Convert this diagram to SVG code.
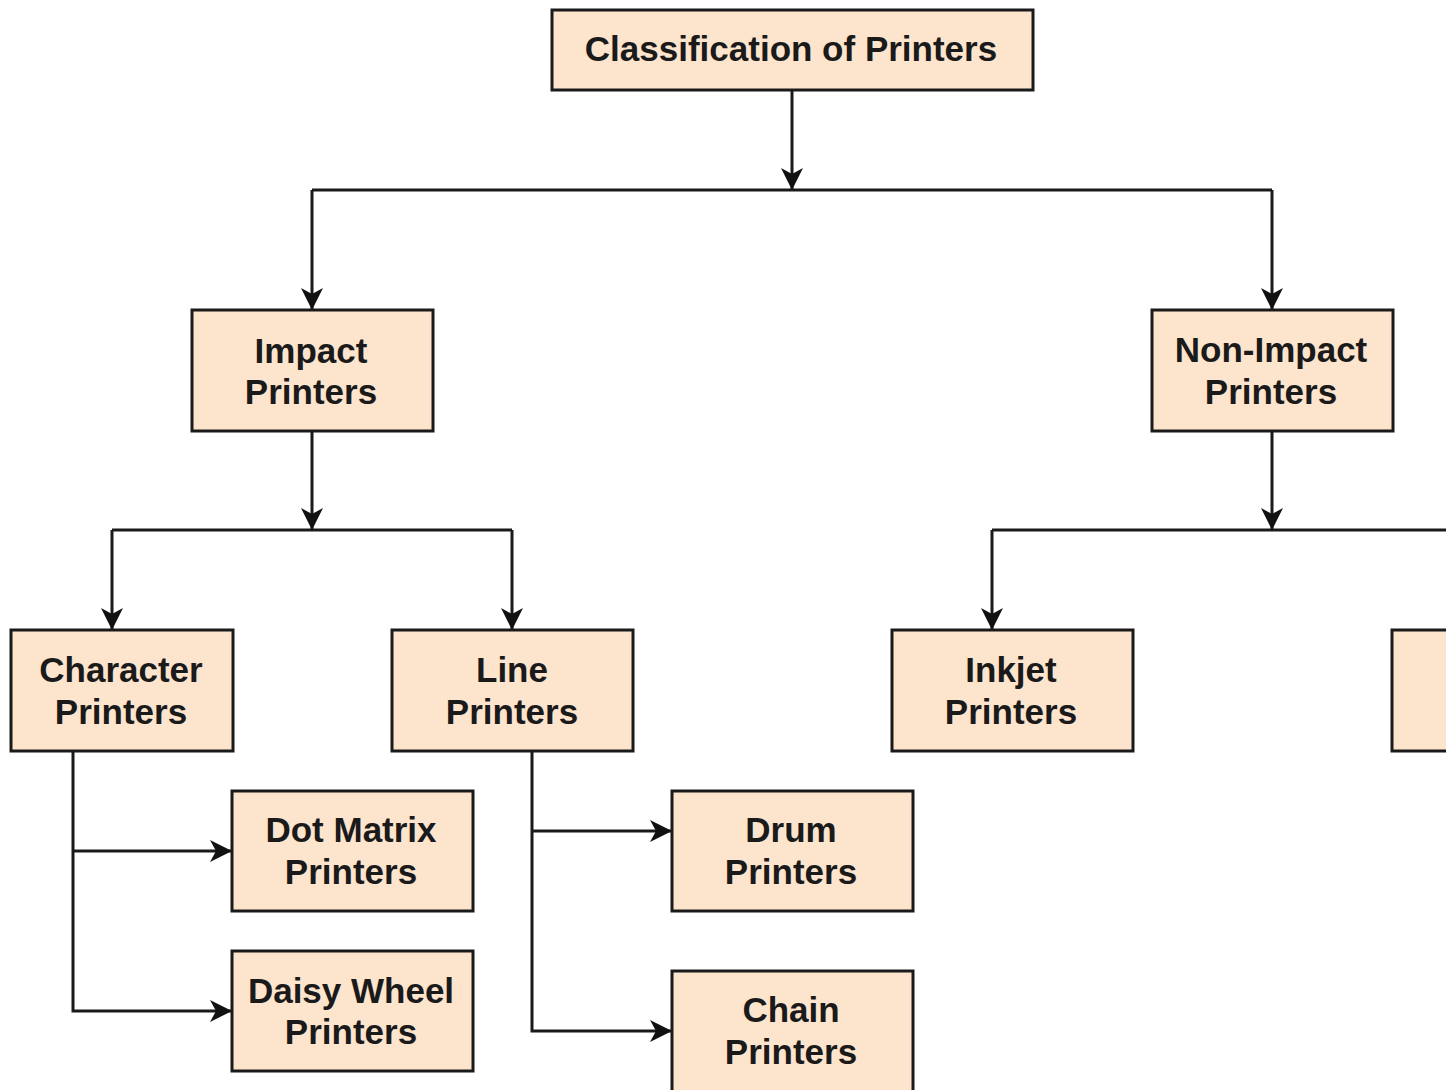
<svg xmlns="http://www.w3.org/2000/svg" width="1446" height="1090" viewBox="0 0 1446 1090">
<style>
.box{fill:#FDE4CD;stroke:#1a1a1a;stroke-width:3}
.lbl{font-family:"Liberation Sans",Arial,sans-serif;font-weight:bold;font-size:35px;fill:#1a1a1a;text-anchor:middle}
.edge{fill:none;stroke:#1a1a1a;stroke-width:3}
</style>
<defs>
<marker id="arr" markerUnits="userSpaceOnUse" markerWidth="24" markerHeight="22" refX="22" refY="11" orient="auto">
<path d="M0,0 L22,11 L0,22 L6,11 z" fill="#111"/>
</marker>
</defs>
<rect width="1446" height="1090" fill="#fff"/>
<g id="connectors">
<path class="edge" d="M792,90 V190" marker-end="url(#arr)"/>
<path class="edge" d="M312,190 H1272"/>
<path class="edge" d="M312,190 V310" marker-end="url(#arr)"/>
<path class="edge" d="M1272,190 V310" marker-end="url(#arr)"/>
<path class="edge" d="M312,431 V530" marker-end="url(#arr)"/>
<path class="edge" d="M112,530 H512"/>
<path class="edge" d="M112,530 V630" marker-end="url(#arr)"/>
<path class="edge" d="M512,530 V630" marker-end="url(#arr)"/>
<path class="edge" d="M1272,431 V530" marker-end="url(#arr)"/>
<path class="edge" d="M992,530 H1512"/>
<path class="edge" d="M992,530 V630" marker-end="url(#arr)"/>
<path class="edge" d="M1512,530 V630" marker-end="url(#arr)"/>
<path class="edge" d="M73,751 V1011 H232" marker-end="url(#arr)"/>
<path class="edge" d="M73,851 H232" marker-end="url(#arr)"/>
<path class="edge" d="M532,751 V1031 H672" marker-end="url(#arr)"/>
<path class="edge" d="M532,831 H672" marker-end="url(#arr)"/>
</g>
<g id="root"><rect class="box" x="552" y="10" width="481" height="80"/><text class="lbl" x="791" y="61">Classification of Printers</text></g>
<g id="impact"><rect class="box" x="192" y="310" width="241" height="121"/><text class="lbl" x="311" y="363">Impact</text><text class="lbl" x="311" y="404">Printers</text></g>
<g id="nonimpact"><rect class="box" x="1152" y="310" width="241" height="121"/><text class="lbl" x="1271" y="362">Non-Impact</text><text class="lbl" x="1271" y="404">Printers</text></g>
<g id="character"><rect class="box" x="11" y="630" width="222" height="121"/><text class="lbl" x="121" y="682">Character</text><text class="lbl" x="121" y="724">Printers</text></g>
<g id="line"><rect class="box" x="392" y="630" width="241" height="121"/><text class="lbl" x="512" y="682">Line</text><text class="lbl" x="512" y="724">Printers</text></g>
<g id="inkjet"><rect class="box" x="892" y="630" width="241" height="121"/><text class="lbl" x="1011" y="682">Inkjet</text><text class="lbl" x="1011" y="724">Printers</text></g>
<g id="laser"><rect class="box" x="1392" y="630" width="241" height="121"/></g>
<g id="dotmatrix"><rect class="box" x="232" y="791" width="241" height="120"/><text class="lbl" x="351" y="842">Dot Matrix</text><text class="lbl" x="351" y="884">Printers</text></g>
<g id="daisywheel"><rect class="box" x="232" y="951" width="241" height="120"/><text class="lbl" x="351" y="1003">Daisy Wheel</text><text class="lbl" x="351" y="1044">Printers</text></g>
<g id="drum"><rect class="box" x="672" y="791" width="241" height="120"/><text class="lbl" x="791" y="842">Drum</text><text class="lbl" x="791" y="884">Printers</text></g>
<g id="chain"><rect class="box" x="672" y="971" width="241" height="125"/><text class="lbl" x="791" y="1022">Chain</text><text class="lbl" x="791" y="1064">Printers</text></g>
</svg>
